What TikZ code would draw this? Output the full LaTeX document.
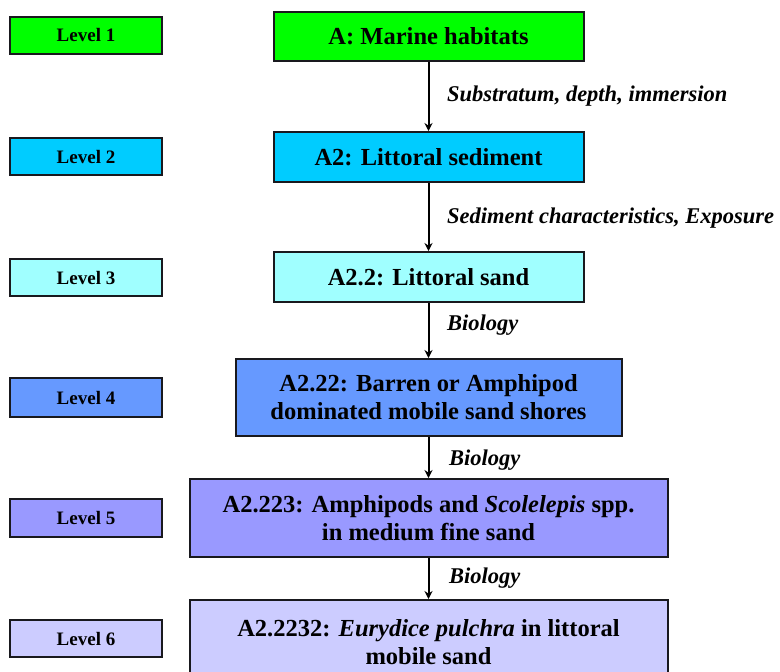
\documentclass[tikz,border=0pt]{standalone}
\usepackage{fontspec}
\setmainfont{Liberation Serif}
\usetikzlibrary{arrows.meta}
\definecolor{cone}{RGB}{0,255,0}
\definecolor{ctwo}{RGB}{0,204,255}
\definecolor{cthree}{RGB}{160,255,255}
\definecolor{cfour}{RGB}{102,153,255}
\definecolor{cfive}{RGB}{153,153,255}
\definecolor{csix}{RGB}{204,204,255}
\definecolor{edge}{RGB}{25,25,30}
\begin{document}
\begin{tikzpicture}[x=1pt,y=-1pt,
  lvl/.style={draw=edge, line width=1.5pt, fill=#1, minimum width=152pt, minimum height=37pt, inner sep=0pt, font=\fontsize{19}{22}\selectfont\bfseries},
  hab/.style={draw=edge, line width=2pt, fill=#1, inner sep=0pt, align=center, font=\fontsize{24.5}{28}\selectfont\bfseries},
  lab/.style={anchor=west, inner sep=0pt, font=\fontsize{22.5}{26}\selectfont\bfseries\itshape},
  arr/.style={line width=2pt, -{Stealth[length=8pt,width=8pt]}}]
\useasboundingbox (0,0) rectangle (780,672);
% level boxes
\node[lvl=cone]   (l1) at (86,35.5)  {Level 1};
\node[lvl=ctwo]   (l2) at (86,156.5) {Level 2};
\node[lvl=cthree] (l3) at (86,277.5) {Level 3};
\node[lvl=cfour, minimum height=39pt] (l4) at (86,397.5) {Level 4};
\node[lvl=cfive, minimum height=38pt] (l5) at (86,518) {Level 5};
\node[lvl=csix]   (l6) at (86,638.5) {Level 6};
% habitat boxes
\node[hab=cone,  minimum width=310pt, minimum height=49pt] (a)    at (428.5,36.5) {A: Marine habitats};
\node[hab=ctwo,  minimum width=310pt, minimum height=50pt] (a2)   at (428.5,157)  {A2: Littoral sediment};
\node[hab=cthree,minimum width=310pt, minimum height=50pt] (a22)  at (428.5,277)  {A2.2: Littoral sand};
\node[hab=cfour, minimum width=386pt, minimum height=77pt] (a222) at (428.5,397.5) {A2.22: Barren or Amphipod\\dominated mobile sand shores};
\node[hab=cfive, minimum width=478pt, minimum height=78pt] (a2223) at (428.5,518) {A2.223: Amphipods and \textit{Scolelepis} spp.\\in medium fine sand};
\node[hab=csix,  minimum width=478pt, minimum height=84pt] (a22232) at (428.5,642) {A2.2232: \textit{Eurydice pulchra} in littoral\\mobile sand};
% connectors
\draw[arr] (a) -- (a2);
\draw[arr] (a2) -- (a22);
\draw[arr] (a22) -- (a222);
\draw[arr] (a222) -- (a2223);
\draw[arr] (a2223) -- (a22232);
% labels
\node[lab] (t1) at (447,96)  {Substratum, depth, immersion};
\node[lab] (t2) at (447,218) {Sediment characteristics, Exposure};
\node[lab] (t3) at (447,325) {Biology};
\node[lab] (t4) at (449,460) {Biology};
\node[lab] (t5) at (449,578) {Biology};
\end{tikzpicture}
\end{document}
